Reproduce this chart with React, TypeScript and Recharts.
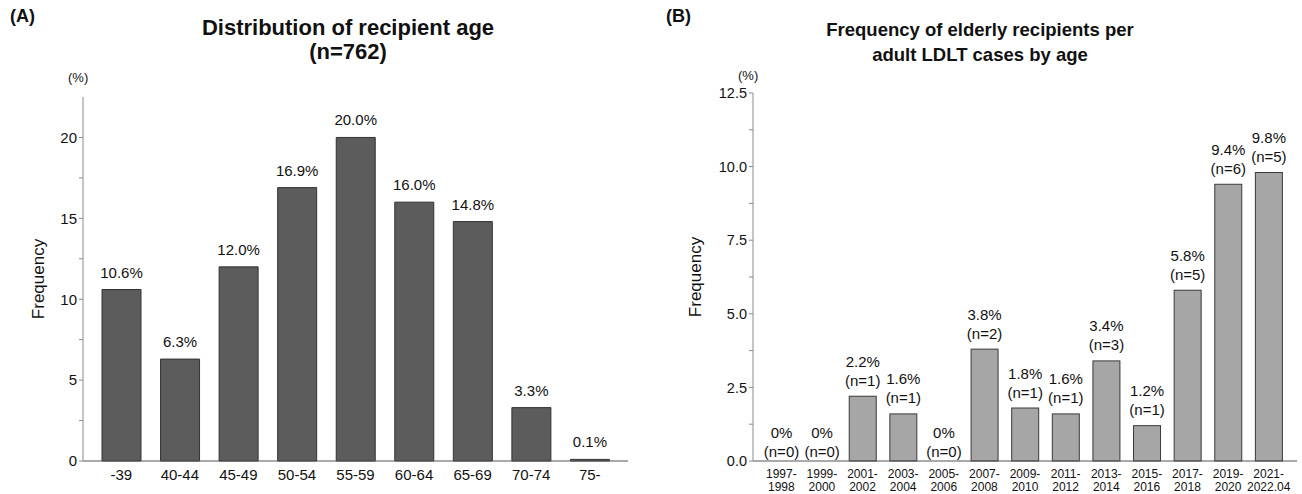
import { Bar, BarChart, Label, LabelList, XAxis, YAxis } from "recharts";

// (A) distribution of recipient age, n=762
const ageGroups = ["-39", "40-44", "45-49", "50-54", "55-59", "60-64", "65-69", "70-74", "75-"];
const agePercent = [10.6, 6.3, 12.0, 16.9, 20.0, 16.0, 14.8, 3.3, 0.1];
const ageTicks = [0, 2.5, 5, 7.5, 10, 12.5, 15, 17.5, 20];

// (B) elderly recipients per adult LDLT cases
const periods = [
  "1997-1998", "1999-2000", "2001-2002", "2003-2004", "2005-2006", "2007-2008", "2009-2010",
  "2011-2012", "2013-2014", "2015-2016", "2017-2018", "2019-2020", "2021-2022.04",
];
const elderlyPercent = [0, 0, 2.2, 1.6, 0, 3.8, 1.8, 1.6, 3.4, 1.2, 5.8, 9.4, 9.8];
const elderlyCount = [0, 0, 1, 1, 0, 2, 1, 1, 3, 1, 5, 6, 5];
const elderlyTicks = [0, 1.25, 2.5, 3.75, 5, 6.25, 7.5, 8.75, 10, 11.25, 12.5];

const ageData = ageGroups.map((g, i) => ({ group: g, value: agePercent[i] }));
const elderlyData = periods.map((p, i) => ({ period: p, value: elderlyPercent[i], n: elderlyCount[i] }));

const FONT = '"Liberation Sans", Arial, sans-serif';
const AXIS = "#8a8a8a";

const PeriodTick = (props: any) => {
  const { x, y, payload } = props;
  const s: string = payload.value;
  const cut = s.indexOf("-") + 1;
  return (
    <text x={x} y={y} textAnchor="middle" fontSize={12} fill="#111" fontFamily={FONT}>
      <tspan x={x} dy="0.75em">{s.slice(0, cut)}</tspan>
      <tspan x={x} dy="1.1em">{s.slice(cut)}</tspan>
    </text>
  );
};

// bar + two-line label; zero bars only get the label
const ElderlyBar = (props: any) => {
  const { x, y, width, height, payload, fill, stroke } = props;
  const v: number = payload.value;
  const base = y + height;
  const top = v === 0 ? base : y;
  const cx = x + width / 2;
  const l2 = top - (v === 0 ? 10 : 16);
  return (
    <g>
      {v > 0 && <rect x={x} y={y} width={width} height={height} fill={fill} stroke={stroke} strokeWidth={1} />}
      <g fontSize={15} fill="#111" fontFamily={FONT} textAnchor="middle">
        <text x={cx} y={l2 - 19} dominantBaseline="central">{v === 0 ? "0%" : `${v.toFixed(1)}%`}</text>
        <text x={cx} y={l2} dominantBaseline="central">{`(n=${payload.n})`}</text>
      </g>
    </g>
  );
};

export default function App() {
  return (
    <div style={{ position: "absolute", left: 0, top: 0, width: 1302, height: 494, background: "#fff", fontFamily: FONT, color: "#111" }}>
      <div style={{ position: "absolute", left: 10, top: 6, fontSize: 18, fontWeight: 700 }}>(A)</div>
      <div style={{ position: "absolute", left: 148, top: 16, width: 400, textAlign: "center", fontSize: 22, fontWeight: 700, lineHeight: "24px" }}>
        Distribution of recipient age
        <br />
        (n=762)
      </div>
      <div style={{ position: "absolute", left: 68, top: 70, fontSize: 13 }}>(%)</div>

      <div style={{ position: "absolute", left: 666, top: 6, fontSize: 18, fontWeight: 700 }}>(B)</div>
      <div style={{ position: "absolute", left: 780, top: 17, width: 400, textAlign: "center", fontSize: 18.5, fontWeight: 700, lineHeight: "25px" }}>
        Frequency of elderly recipients per
        <br />
        adult LDLT cases by age
      </div>
      <div style={{ position: "absolute", left: 738, top: 68, fontSize: 13 }}>(%)</div>

      <div style={{ position: "absolute", left: 0, top: 0 }}>
        <BarChart width={640} height={494} data={ageData} margin={{ top: 97, right: 12, bottom: 3, left: 33 }}>
          <XAxis
            dataKey="group"
            height={30}
            tickLine={false}
            tickSize={6}
            padding={{ left: 9, right: 9 }}
            axisLine={{ stroke: "#555" }}
            tick={{ fontSize: 15, fill: "#111", fontFamily: FONT }}
          />
          <YAxis
            width={50}
            domain={[0, 22.5]}
            ticks={ageTicks}
            interval={0}
            tickSize={4}
            axisLine={{ stroke: AXIS }}
            tickLine={{ stroke: AXIS }}
            tickFormatter={(v: number) => (v % 5 === 0 ? String(v) : "")}
            tick={{ fontSize: 15, fill: "#111", fontFamily: FONT }}
          >
            <Label value="Frequency" angle={-90} position="insideLeft" offset={5} style={{ textAnchor: "middle", fontSize: 17, fill: "#111", fontFamily: FONT }} />
          </YAxis>
          <Bar dataKey="value" fill="#5c5c5c" stroke="#333" strokeWidth={1} barSize={39} isAnimationActive={false}>
            <LabelList
              dataKey="value"
              position="top"
              offset={12}
              formatter={(v: any) => `${Number(v).toFixed(1)}%`}
              style={{ fontSize: 15, fill: "#111", fontFamily: FONT }}
            />
          </Bar>
        </BarChart>
      </div>

      <div style={{ position: "absolute", left: 660, top: 0 }}>
        <BarChart width={642} height={494} data={elderlyData} margin={{ top: 93, right: 5, bottom: 3, left: 33 }}>
          <XAxis
            dataKey="period"
            height={30}
            tickLine={false}
            tickSize={6}
            interval={0}
            padding={{ left: 8, right: 8 }}
            axisLine={{ stroke: "#555" }}
            tick={<PeriodTick />}
          />
          <YAxis
            width={60}
            domain={[0, 12.5]}
            ticks={elderlyTicks}
            interval={0}
            tickSize={4}
            axisLine={{ stroke: AXIS }}
            tickLine={{ stroke: AXIS }}
            tickFormatter={(v: number) => (v % 2.5 === 0 ? v.toFixed(1) : "")}
            tick={{ fontSize: 14.5, fill: "#111", fontFamily: FONT }}
          >
            <Label value="Frequency" angle={-90} position="insideLeft" offset={2} style={{ textAnchor: "middle", fontSize: 17, fill: "#111", fontFamily: FONT }} />
          </YAxis>
          <Bar
            dataKey="value"
            fill="#a6a6a6"
            stroke="#3a3a3a"
            barSize={27}
            minPointSize={1}
            shape={<ElderlyBar />}
            isAnimationActive={false}
          />
        </BarChart>
      </div>
    </div>
  );
}
